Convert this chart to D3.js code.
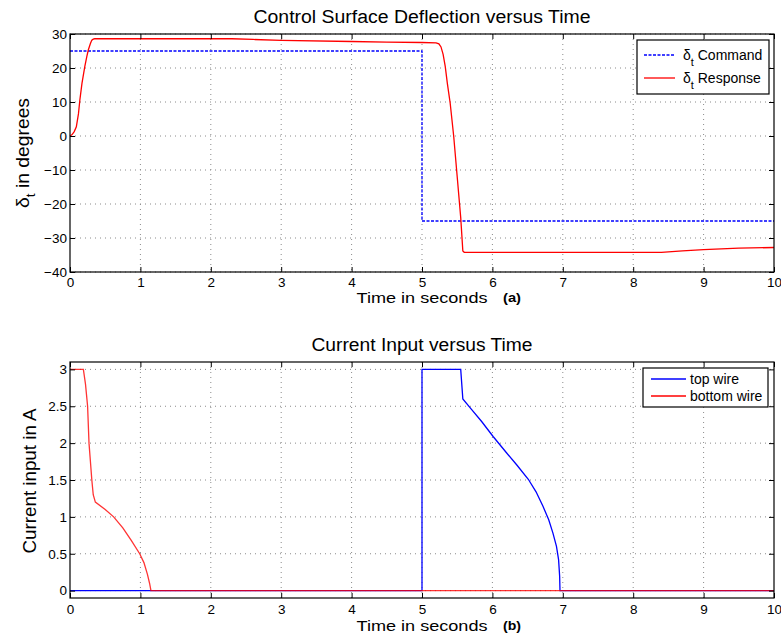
<!DOCTYPE html>
<html>
<head>
<meta charset="utf-8">
<script src="https://cdn.jsdelivr.net/npm/d3@7"></script>
<style>
  html, body { margin: 0; padding: 0; background: #fff; }
  svg { display: block; font-family: "Liberation Sans", Arial, Helvetica, sans-serif; }
</style>
</head>
<body>
<svg id="chart" width="781" height="642"></svg>
<script>
// ---- Panel (a): control surface deflection (degrees) ----
const xTicks = [0, 1, 2, 3, 4, 5, 6, 7, 8, 9, 10];
const deflTicks = [-40, -30, -20, -10, 0, 10, 20, 30];

const commandTime = [0, 5, 5, 10];
const commandDeg = [25, 25, -25, -25];

const responseTime = [0, 0.03, 0.06, 0.09, 0.12, 0.14, 0.17, 0.21, 0.24, 0.26, 0.29, 0.31, 0.33, 0.35, 0.4,
  1.0, 2.0, 2.3, 2.6, 3.0, 4.0, 4.5, 5.0, 5.2, 5.24, 5.27, 5.3, 5.33, 5.36, 5.4, 5.45, 5.5, 5.55, 5.58, 5.6,
  6.5, 7.5, 8.0, 8.4, 8.7, 9.0, 9.5, 10];
const responseDeg = [0, 0.4, 1.3, 2.7, 6.5, 10.6, 15.5, 20.4, 23.5, 25.3, 27.2, 28.2, 28.5, 28.6, 28.6,
  28.6, 28.6, 28.6, 28.4, 28.1, 27.8, 27.6, 27.5, 27.4, 27.1, 26.2, 24.0, 20.5, 15.5, 9.7, 0, -12, -24, -33.8, -34.2,
  -34.2, -34.2, -34.2, -34.2, -33.8, -33.4, -33.0, -32.8];

// ---- Panel (b): current input (A) ----
const currentTicks = [0, 0.5, 1, 1.5, 2, 2.5, 3];
const currentTickLabels = ["0", "0.5", "1", "1.5", "2", "2.5", "3"];

const topWireTime = [0, 5, 5, 5.55, 5.58, 5.7, 5.85, 6.01, 6.2, 6.35, 6.51, 6.62, 6.72, 6.8, 6.86, 6.91, 6.94, 6.955, 6.96, 10];
const topWireAmp = [0, 0, 3, 3, 2.6, 2.46, 2.29, 2.09, 1.87, 1.7, 1.51, 1.34, 1.14, 0.96, 0.78, 0.6, 0.42, 0.2, 0, 0];

const bottomWireTime = [0, 0.19, 0.22, 0.25, 0.27, 0.29, 0.31, 0.33, 0.36, 0.5, 0.62, 0.75, 0.87, 0.99, 1.05, 1.1, 1.13, 1.15, 10];
const bottomWireAmp = [3, 3, 2.8, 2.5, 2.0, 1.75, 1.5, 1.3, 1.2, 1.1, 1.0, 0.85, 0.68, 0.5, 0.38, 0.22, 0.1, 0, 0];

const svg = d3.select("#chart");

const left = 70, right = 774;
const x = d3.scaleLinear().domain([0, 10]).range([left, right]);

// text drawn slightly wide, to a fixed length
function wideText(sel, len) {
  return sel.attr("textLength", len).attr("lengthAdjust", "spacingAndGlyphs");
}

function panel(cfg) {
  const y = d3.scaleLinear().domain(cfg.yDomain).range([cfg.bottom, cfg.top]);
  const g = svg.append("g");

  // dotted grid
  g.append("g").selectAll("line").data(xTicks.slice(1, -1)).join("line")
    .attr("x1", d => x(d)).attr("x2", d => x(d))
    .attr("y1", cfg.top).attr("y2", cfg.bottom)
    .attr("stroke", "#8a8a8a").attr("stroke-width", 1).attr("stroke-dasharray", "1,4");
  g.append("g").selectAll("line").data(cfg.yTicks).join("line")
    .attr("x1", left).attr("x2", right)
    .attr("y1", d => y(d)).attr("y2", d => y(d))
    .attr("stroke", "#8a8a8a").attr("stroke-width", 1).attr("stroke-dasharray", "1,4");

  // series
  const line = d3.line().x(d => x(d[0])).y(d => y(d[1]));
  cfg.series.forEach(s => {
    g.append("path")
      .datum(d3.zip(s.t, s.v))
      .attr("d", line)
      .attr("fill", "none")
      .attr("stroke", s.color)
      .attr("stroke-width", 1.3)
      .attr("stroke-opacity", s.opacity || 1)
      .attr("stroke-dasharray", s.dash || null);
  });

  // axes with inward ticks on all four sides
  const tick = 5;
  const axB = g.append("g").attr("transform", `translate(0,${cfg.bottom})`)
    .call(d3.axisBottom(x).tickValues(xTicks).tickSize(-tick).tickPadding(cfg.xPad).tickFormat(d3.format("d")));
  const axT = g.append("g").attr("transform", `translate(0,${cfg.top})`)
    .call(d3.axisTop(x).tickValues(xTicks).tickSize(-tick).tickFormat(""));
  const axL = g.append("g").attr("transform", `translate(${left},0)`)
    .call(d3.axisLeft(y).tickValues(cfg.yTicks).tickSize(-tick).tickPadding(3)
      .tickFormat((d, i) => cfg.yLabels ? cfg.yLabels[i] : d3.format("d")(d)));
  const axR = g.append("g").attr("transform", `translate(${right},0)`)
    .call(d3.axisRight(y).tickValues(cfg.yTicks).tickSize(-tick).tickFormat(""));
  [axB, axT, axL, axR].forEach(a => {
    a.select(".domain").remove();
    a.selectAll(".tick line").attr("stroke", "#000").attr("stroke-width", 1);
    a.selectAll("text").attr("font-size", 13.5).attr("fill", "#000")
      .attr("font-family", "\"Liberation Sans\", Arial, sans-serif");
  });

  // frame
  g.append("rect").attr("x", left).attr("y", cfg.top)
    .attr("width", right - left).attr("height", cfg.bottom - cfg.top)
    .attr("fill", "none").attr("stroke", "#000").attr("stroke-width", 1.2);

  // title
  wideText(g.append("text").attr("x", (left + right) / 2).attr("y", cfg.top - 11)
    .attr("text-anchor", "middle").attr("font-size", 18).text(cfg.title), cfg.titleLen);

  // x label with panel tag
  wideText(g.append("text").attr("x", (left + right) / 2).attr("y", cfg.bottom + cfg.xLabelDy)
    .attr("text-anchor", "middle").attr("font-size", 15).text("Time in seconds"), 131);
  wideText(g.append("text").attr("x", 503).attr("y", cfg.bottom + cfg.xLabelDy - 1)
    .attr("font-size", 12.5).attr("font-weight", "bold").text(cfg.tag), 18);

  // legend
  const lg = g.append("g");
  lg.append("rect").attr("x", cfg.legend.x).attr("y", cfg.legend.y)
    .attr("width", cfg.legend.w).attr("height", cfg.legend.h)
    .attr("fill", "#fff").attr("stroke", "#000").attr("stroke-width", 1.2);
  cfg.series.forEach((s, i) => {
    const ly = cfg.legend.y + cfg.legend.row0 + i * cfg.legend.step;
    lg.append("line").attr("x1", cfg.legend.x + cfg.legend.lineX0).attr("x2", cfg.legend.x + cfg.legend.lineX0 + cfg.legend.lineW)
      .attr("y1", ly).attr("y2", ly)
      .attr("stroke", s.color).attr("stroke-width", 1.3).attr("stroke-dasharray", s.dash || null);
    const t = lg.append("text").attr("x", cfg.legend.x + cfg.legend.textX).attr("y", ly + 5)
      .attr("font-size", 14);
    s.label(t);
  });

  return y;
}

function deltaLabel(t, rest, sub) {
  t.append("tspan").text("\u03B4");
  t.append("tspan").attr("font-size", sub).attr("dy", sub * 0.5).text("t");
  t.append("tspan").attr("dy", -sub * 0.5).text(rest);
}

panel({
  top: 34, bottom: 272, yDomain: [-40, 30], yTicks: deflTicks,
  title: "Control Surface Deflection versus Time", titleLen: 337,
  tag: "(a)", xPad: 5, xLabelDy: 31,
  legend: { x: 637, y: 40, w: 132, h: 54, row0: 15, step: 23, lineX0: 7, lineW: 31, textX: 46 },
  series: [
    { t: commandTime, v: commandDeg, color: "#0000ff", dash: "3,1.5", label: t => deltaLabel(t, " Command", 11) },
    { t: responseTime, v: responseDeg, color: "#ff0000", label: t => deltaLabel(t, " Response", 11) }
  ]
});

panel({
  top: 362, bottom: 598, yDomain: [-0.1, 3.1], yTicks: currentTicks, yLabels: currentTickLabels,
  title: "Current Input versus Time", titleLen: 221,
  tag: "(b)", xPad: 6, xLabelDy: 33,
  legend: { x: 643, y: 368, w: 125, h: 39, row0: 11, step: 17, lineX0: 8, lineW: 35, textX: 47 },
  series: [
    { t: topWireTime, v: topWireAmp, color: "#0000ff", label: t => t.text("top wire") },
    { t: bottomWireTime, v: bottomWireAmp, color: "#ff0000", opacity: 0.8, label: t => t.text("bottom wire") }
  ]
});

// y-axis labels
const yl1 = svg.append("text").attr("transform", "translate(29,153) rotate(-90)")
  .attr("text-anchor", "middle").attr("font-size", 17.5);
deltaLabel(yl1, " in degrees", 12.5);
wideText(yl1, 110);

wideText(svg.append("text").attr("transform", "translate(36,481) rotate(-90)")
  .attr("text-anchor", "middle").attr("font-size", 17.5).text("Current input in A"), 145);
</script>
</body>
</html>
